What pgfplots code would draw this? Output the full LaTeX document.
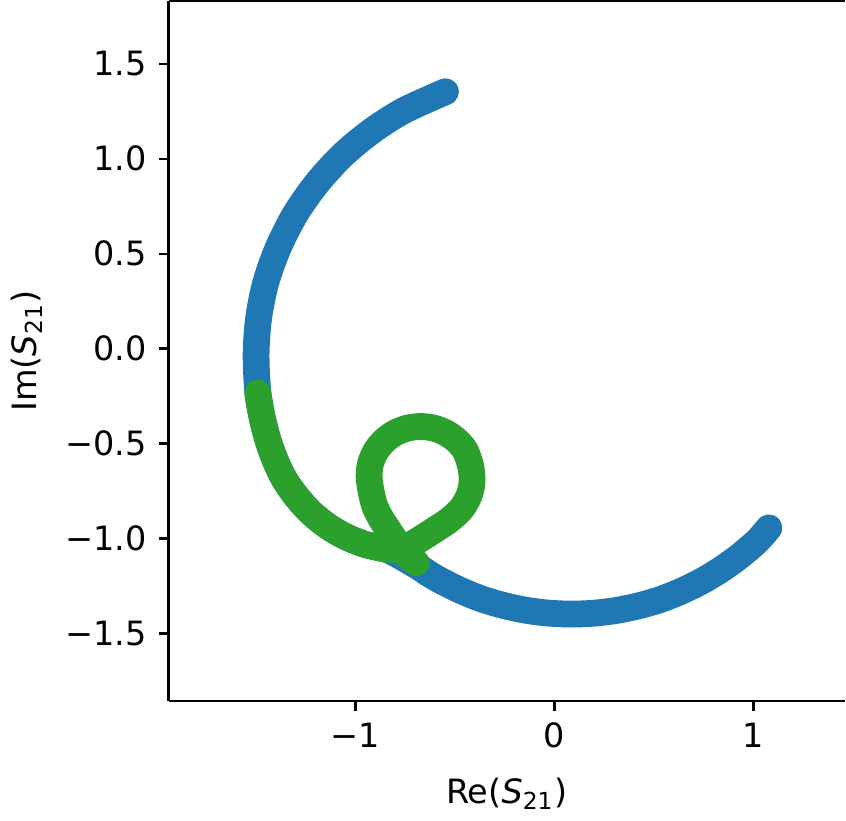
\documentclass[border=0pt]{standalone}
\usepackage{fontspec}
\setmainfont{DejaVu Sans}
\usepackage{pgfplots}
\pgfplotsset{compat=1.18}
\definecolor{mplblue}{HTML}{1F77B4}
\definecolor{mplgreen}{HTML}{2CA02C}

\begin{document}
\begin{tikzpicture}
\begin{axis}[
    scale only axis,
    width=202pt,
    height=209pt,
    xmin=-1.94, xmax=1.46,
    ymin=-1.855, ymax=1.83,
    axis x line*=box,
    axis y line*=left,
    axis line style={line width=0.7pt},
    xtick={-1,0,1},
    xticklabels={−1,0,1},
    ytick={-1.5,-1,-0.5,0,0.5,1,1.5},
    yticklabels={−1.5,−1.0,−0.5,0.0,0.5,1.0,1.5},
    xtick pos=bottom,
    ytick pos=left,
    tick align=outside,
    major tick length=3pt,
    tick style={line width=0.7pt, black},
    tick label style={font=\fontsize{10}{12}\selectfont},
    label style={font=\fontsize{10}{12}\selectfont},
    xlabel={Re(\textit{S}\textsubscript{21})},
    xlabel style={yshift=-2pt},
    ylabel={Im(\textit{S}\textsubscript{21})},
]
% S21 without resonance (blue)
\addplot[mplblue, line width=8pt, line cap=round, line join=round, smooth, tension=0.5] coordinates {
(-0.548,1.353) (-0.760,1.252) (-0.921,1.144) (-1.067,1.017) (-1.194,0.871)
(-1.302,0.710) (-1.387,0.536) (-1.450,0.353) (-1.487,0.163) (-1.500,-0.030)
(-1.491,-0.233) (-1.470,-0.360) (-1.441,-0.479) (-1.403,-0.590) (-1.357,-0.689)
(-1.295,-0.782) (-1.223,-0.865) (-1.140,-0.935) (-1.054,-0.988) (-0.955,-1.030)
(-0.840,-1.058) (-0.696,-1.141) (-0.632,-1.185) (-0.573,-1.221) (-0.471,-1.274)
(-0.364,-1.319) (-0.254,-1.353) (-0.142,-1.378) (-0.028,-1.393) (0.087,-1.398)
(0.202,-1.393) (0.316,-1.378) (0.429,-1.353) (0.539,-1.319) (0.645,-1.274)
(0.747,-1.221) (0.844,-1.159) (0.936,-1.089) (1.021,-1.012) (1.078,-0.944)
};
% S21 around the resonance (green)
\addplot[mplgreen, line width=8pt, line cap=round, line join=round, smooth, tension=0.5] coordinates {
(-1.491,-0.233) (-1.470,-0.360) (-1.441,-0.479) (-1.403,-0.590) (-1.357,-0.689)
(-1.295,-0.782) (-1.223,-0.865) (-1.140,-0.935) (-1.054,-0.988) (-0.955,-1.030)
(-0.853,-1.055) (-0.790,-1.055) (-0.736,-1.040) (-0.670,-1.000) (-0.600,-0.953)
(-0.525,-0.900) (-0.465,-0.840) (-0.428,-0.770) (-0.414,-0.700) (-0.421,-0.620)
(-0.447,-0.540) (-0.489,-0.486) (-0.543,-0.445) (-0.605,-0.419) (-0.673,-0.410)
(-0.740,-0.419) (-0.803,-0.445) (-0.856,-0.486) (-0.898,-0.540) (-0.924,-0.603)
(-0.932,-0.672) (-0.922,-0.750) (-0.903,-0.830) (-0.872,-0.895) (-0.836,-0.953)
(-0.800,-1.010) (-0.769,-1.058) (-0.730,-1.100) (-0.694,-1.128)
};
\end{axis}
\end{tikzpicture}
\end{document}
